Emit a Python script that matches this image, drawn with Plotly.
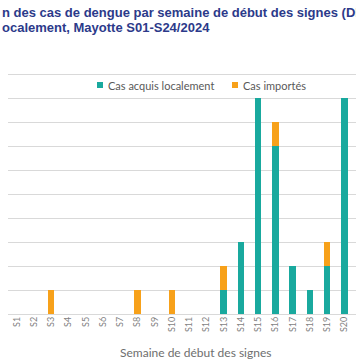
import plotly.graph_objects as go

weeks = ["S1","S2","S3","S4","S5","S6","S7","S8","S9","S10",
         "S11","S12","S13","S14","S15","S16","S17","S18","S19","S20"]
local_cases = [0,0,0,0,0,0,0,0,0,0,0,0,1,3,9,7,2,1,2,9]
imported_cases = [0,0,1,0,0,0,0,1,0,1,0,0,1,0,0,1,0,0,1,0]

title_line1 = "n des cas de dengue par semaine de début des signes (DDS)"
title_line2 = "ocalement, Mayotte S01-S24/2024"

TEAL = "#19A99E"
ORANGE = "#F7A11A"
GRAY = "#7F7F7F"

W, H = 356, 364
L, R, T, B = 8, 0, 67, 50
pw, ph = W - L - R, H - T - B

def px_x(x):
    return (x - L) / pw

def px_y(y):
    return (H - B - y) / ph

fig = go.Figure()
fig.add_trace(go.Bar(x=weeks, y=local_cases, name="Cas acquis localement",
                     marker_color=TEAL, marker_line_width=0, showlegend=False))
fig.add_trace(go.Bar(x=weeks, y=imported_cases, name="Cas importés",
                     marker_color=ORANGE, marker_line_width=0, showlegend=False))

fig.update_layout(
    width=W, height=H,
    margin=dict(l=L, r=R, t=T, b=B, autoexpand=False),
    paper_bgcolor="white", plot_bgcolor="white",
    barmode="stack", bargap=0.62,
    font=dict(family="Lato, sans-serif", color=GRAY),
    xaxis=dict(
        type="category", range=[-0.5, 19.67], automargin=False,
        tickangle=-90, tickfont=dict(size=9, color=GRAY),
        showgrid=False, showline=False, ticks="",
    ),
    yaxis=dict(
        range=[0, 10.3], dtick=1, showticklabels=False, automargin=False,
        gridcolor="#D9D9D9", gridwidth=1,
        zeroline=True, zerolinecolor="#D9D9D9", zerolinewidth=1,
        showline=False, ticks="",
    ),
)

# Title (cropped, two lines)
for txt, yc in [(title_line1, 12), (title_line2, 27)]:
    fig.add_annotation(text="<b>" + txt + "</b>", xref="paper", yref="paper",
                       x=px_x(0), y=px_y(yc), xanchor="left", yanchor="middle",
                       showarrow=False,
                       font=dict(family="Liberation Sans, Arial, sans-serif", size=13, color="#2C3A8A"))

# Legend (manual, Excel-like)
leg_y = 85
for x0, color, label in [(97, TEAL, "Cas acquis localement"), (232, ORANGE, "Cas importés")]:
    fig.add_shape(type="rect", xref="paper", yref="paper",
                  x0=px_x(x0), x1=px_x(x0 + 6), y0=px_y(leg_y + 3), y1=px_y(leg_y - 3),
                  fillcolor=color, line_width=0)
    fig.add_annotation(text=label, xref="paper", yref="paper",
                       x=px_x(x0 + 9), y=px_y(leg_y), xanchor="left", yanchor="middle",
                       showarrow=False, font=dict(size=11, color="#595959"))

# Axis title
fig.add_annotation(text="Semaine de début des signes", xref="paper", yref="paper",
                   x=px_x(195), y=px_y(352), xanchor="center", yanchor="middle",
                   showarrow=False, font=dict(size=12, color="#6E6E6E"))

fig.write_html("out.html", config={"displayModeBar": False},
               post_script="document.body.style.margin='0';document.body.style.padding='0';")
